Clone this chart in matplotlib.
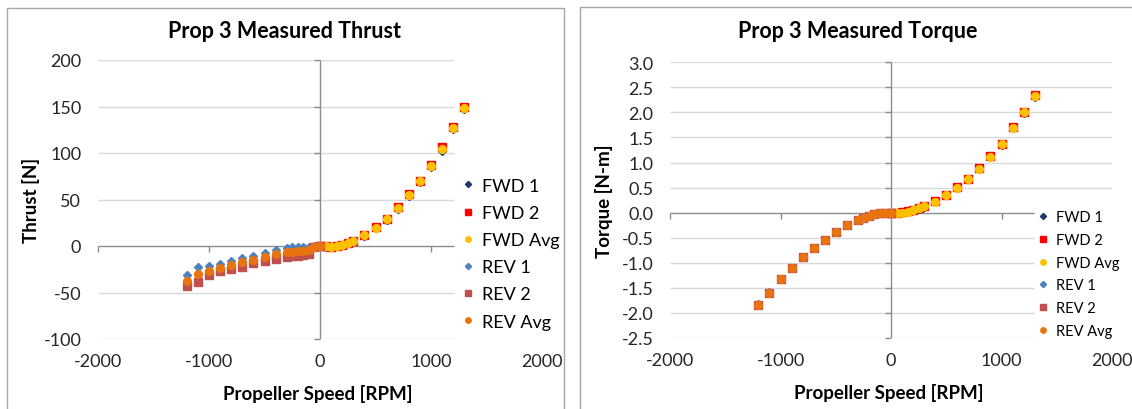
import matplotlib
matplotlib.use("Agg")
import matplotlib.pyplot as plt
from matplotlib.patches import Rectangle
from matplotlib.lines import TICKLEFT, TICKDOWN

plt.rcParams['font.family'] = ['Lato', 'DejaVu Sans']
plt.rcParams['axes.unicode_minus'] = False

W, H = 1132, 410

series_names = ['FWD 1', 'FWD 2', 'FWD Avg', 'REV 1', 'REV 2', 'REV Avg']
series_colors = ['#1F3A73', '#FF0000', '#FFC000', '#4F81BD', '#C0504D', '#E8730F']
series_markers = ['D', 's', 'o', 'D', 's', 'o']
series_sizes = [4.5, 5.2, 5.6, 4.5, 5.2, 5.6]

# propeller speed [RPM]
fwd_rpm = [0, 50, 100, 150, 200, 250, 300, 400, 500, 600, 700, 800, 900, 1000, 1100, 1200, 1300]
rev_rpm = [0, -50, -100, -150, -200, -250, -300, -400, -500, -600, -700, -800, -900, -1000, -1100, -1200]

# thrust [N]
thrust_fwd1 = [0, -0.6, -0.9, 0.1, 1.2, 2.8, 5.0, 11.0, 19.0, 27.5, 39.5, 54.0, 69.0, 85.0, 102.0, 126.0, 147.0]
thrust_fwd2 = [0, -0.4, -0.7, 0.3, 1.4, 3.3, 5.8, 12.0, 20.0, 29.5, 41.5, 55.5, 70.0, 87.0, 106.0, 128.0, 149.0]
thrust_fwd_avg = [0, -0.5, -0.8, 0.2, 1.3, 3.0, 5.4, 11.5, 19.5, 28.5, 40.5, 54.5, 69.5, 86.0, 104.0, 127.0, 148.0]
thrust_rev1 = [0, -0.2, -0.8, -0.8, -0.8, -0.9, -2.0, -4.3, -7.7, -11.1, -12.9, -16.1, -19.7, -21.9, -22.6, -31.2]
thrust_rev2 = [0, -1.0, -8.6, -9.7, -10.4, -11.0, -11.8, -13.6, -16.1, -18.6, -22.2, -24.7, -26.9, -31.2, -38.4, -43.4]
thrust_rev_avg = [0, -0.6, -4.7, -5.3, -5.6, -6.0, -6.9, -9.0, -11.9, -14.9, -17.6, -20.4, -23.3, -26.6, -30.5, -37.3]

# torque [N-m]
torque_fwd1 = [0, 0.0, 0.0, 0.02, 0.05, 0.08, 0.12, 0.22, 0.35, 0.50, 0.67, 0.88, 1.11, 1.36, 1.68, 1.99, 2.31]
torque_fwd2 = [0, 0.0, 0.01, 0.03, 0.05, 0.09, 0.13, 0.23, 0.36, 0.51, 0.68, 0.89, 1.13, 1.38, 1.71, 2.01, 2.35]
torque_fwd_avg = [0, 0.0, 0.0, 0.02, 0.05, 0.085, 0.125, 0.22, 0.35, 0.50, 0.67, 0.88, 1.12, 1.37, 1.69, 2.00, 2.33]
torque_rev1 = [0, 0.0, -0.01, -0.03, -0.06, -0.11, -0.15, -0.25, -0.39, -0.54, -0.70, -0.88, -1.10, -1.32, -1.59, -1.83]
torque_rev2 = [0, 0.0, -0.01, -0.03, -0.06, -0.11, -0.15, -0.25, -0.39, -0.54, -0.70, -0.88, -1.10, -1.32, -1.60, -1.84]
torque_rev_avg = [0, 0.0, -0.01, -0.03, -0.06, -0.11, -0.15, -0.25, -0.39, -0.54, -0.70, -0.88, -1.10, -1.32, -1.60, -1.84]

x_ticks = [-2000, -1000, 0, 1000, 2000]
thrust_ticks = [-100, -50, 0, 50, 100, 150, 200]
thrust_labels = ['-100', '-50', '0', '50', '100', '150', '200']
torque_ticks = [-2.5, -2.0, -1.5, -1.0, -0.5, 0.0, 0.5, 1.0, 1.5, 2.0, 2.5, 3.0]
torque_labels = ['-2.5', '-2.0', '-1.5', '-1.0', '-0.5', '0.0', '0.5', '1.0', '1.5', '2.0', '2.5', '3.0']

GRID = '#D9D9D9'
AXIS = '#8C8C8C'
TEXT = '#262626'


def px_rect(x0, y0, x1, y1):
    return [x0 / W, 1 - y1 / H, (x1 - x0) / W, (y1 - y0) / H]


def draw_panel(ax, fwd, rev, yticks, ylabels, ylabel, grid_end, xtick_marks):
    ax.set_xlim(x_ticks[0], x_ticks[-1])
    ax.set_ylim(yticks[0], yticks[-1])
    for s in ax.spines.values():
        s.set_visible(False)
    ax.set_facecolor('none')

    ax.hlines([t for t in yticks if t != 0], x_ticks[0], grid_end, color=GRID, lw=1.0, zorder=1)
    ax.hlines(0, x_ticks[0], grid_end, color=AXIS, lw=1.0, zorder=2)
    ax.vlines(0, yticks[0], yticks[-1], color=AXIS, lw=1.0, zorder=2)
    ax.plot(xtick_marks, [0] * len(xtick_marks), ls='none', marker=TICKDOWN,
            ms=4, mew=1.0, color=AXIS, zorder=2, clip_on=False)
    ytm = [t for t in yticks if t != 0]
    ax.plot([0] * len(ytm), ytm, ls='none', marker=TICKLEFT,
            ms=4, mew=1.0, color=AXIS, zorder=2, clip_on=False)

    handles = []
    data = [(fwd_rpm, v) for v in fwd] + [(rev_rpm, v) for v in rev]
    for (xs, ys), name, c, m, ms in zip(data, series_names, series_colors,
                                        series_markers, series_sizes):
        h, = ax.plot(xs, ys, ls='none', marker=m, ms=ms, color=c, mec=c,
                     label=name, zorder=3, clip_on=False)
        handles.append(h)

    ax.set_xticks(x_ticks)
    ax.set_xticklabels([str(t) for t in x_ticks])
    ax.set_yticks(yticks)
    ax.set_yticklabels(ylabels)
    ax.tick_params(axis='x', length=0, pad=10, labelsize=13, labelcolor=TEXT)
    ax.tick_params(axis='y', length=0, pad=12, labelsize=13, labelcolor=TEXT)
    ax.set_xlabel('Propeller Speed [RPM]', fontsize=13.5, fontweight='bold')
    ax.set_ylabel(ylabel, fontsize=13.5, fontweight='bold')
    return handles


fig = plt.figure(figsize=(W / 100, H / 100), dpi=100)

# panel borders
fig.add_artist(Rectangle((7 / W, -0.1), (564 - 7) / W, 1.1 - 9 / H,
                         transform=fig.transFigure, fill=False, ec='#A6A6A6', lw=1))
fig.add_artist(Rectangle((580 / W, -0.1), 0.6, 1.1 - 8 / H,
                         transform=fig.transFigure, fill=False, ec='#A6A6A6', lw=1))

ax1 = fig.add_axes(px_rect(98, 61, 542, 340))
h1 = draw_panel(ax1, [thrust_fwd1, thrust_fwd2, thrust_fwd_avg],
                [thrust_rev1, thrust_rev2, thrust_rev_avg],
                thrust_ticks, thrust_labels, 'Thrust [N]', 1210, [-2000, -1000, 1000])
ax1.xaxis.set_label_coords((318 - 98) / 444, (340 - 385) / 279)
ax1.yaxis.set_label_coords((40 - 98) / 444, 0.5)
ax1.legend(handles=h1, loc='upper left', bbox_to_anchor=(450 / W, 1 - 166 / H),
           bbox_transform=fig.transFigure, frameon=True, facecolor='white',
           edgecolor='white', framealpha=1, fancybox=False, borderpad=0.2,
           handlelength=0.6, handletextpad=0.5, labelspacing=0.62,
           fontsize=13, markerscale=0.7)

ax2 = fig.add_axes(px_rect(670, 63.3, 1112, 339))
h2 = draw_panel(ax2, [torque_fwd1, torque_fwd2, torque_fwd_avg],
                [torque_rev1, torque_rev2, torque_rev_avg],
                torque_ticks, torque_labels, 'Torque [N-m]', 2000,
                [-2000, -1000, 1000, 2000])
ax2.xaxis.set_label_coords((889 - 670) / 442, (339 - 384) / 275.7)
ax2.yaxis.set_label_coords((613 - 670) / 442, 0.5)
ax2.legend(handles=h2, loc='upper left', bbox_to_anchor=(1028 / W, 1 - 201 / H),
           bbox_transform=fig.transFigure, frameon=True, facecolor='white',
           edgecolor='white', framealpha=1, fancybox=False, borderpad=0.2,
           handlelength=0.7, handletextpad=0.5, labelspacing=0.6,
           fontsize=10.5, markerscale=0.7)

fig.text(285 / W, 1 - 31 / H, 'Prop 3 Measured Thrust', ha='center', va='center',
         fontsize=15.5, fontweight='bold')
fig.text(858 / W, 1 - 31 / H, 'Prop 3 Measured Torque', ha='center', va='center',
         fontsize=15.5, fontweight='bold')

fig.savefig('out.png', dpi=100)
